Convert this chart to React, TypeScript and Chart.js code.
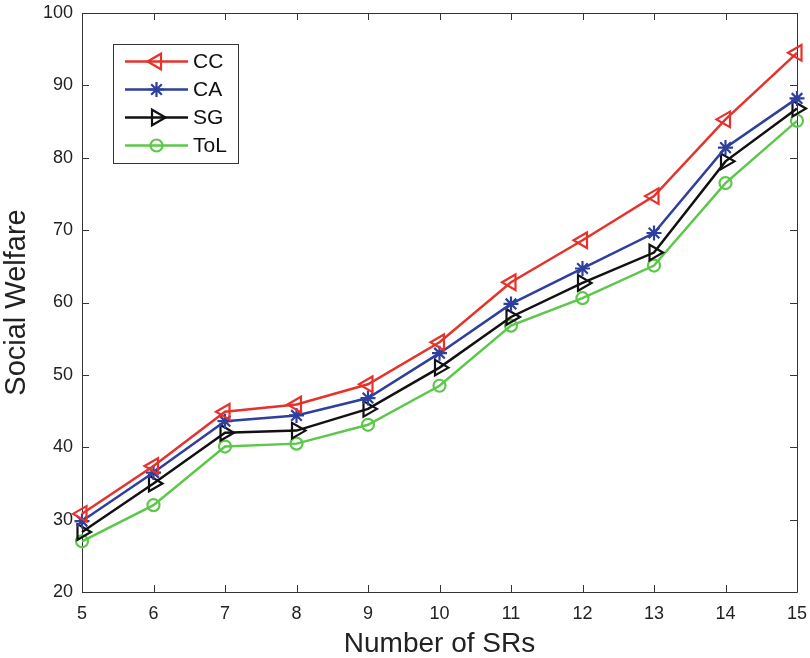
import React, { useEffect, useRef } from "react";
import { Chart, registerables } from "chart.js";
import { drawPoint } from "chart.js/helpers";

Chart.register(...registerables);

const xValues = [5, 6, 7, 8, 9, 10, 11, 12, 13, 14, 15];
const ccValues = [30.8, 37.4, 44.9, 45.9, 48.7, 54.5, 62.8, 68.6, 74.7, 85.3, 94.5];
const caValues = [29.8, 36.5, 43.6, 44.4, 46.8, 53.0, 59.8, 64.7, 69.6, 81.4, 88.2];
const sgValues = [28.3, 35.0, 42.0, 42.3, 45.3, 51.0, 58.0, 62.7, 66.9, 79.5, 86.8];
const tolValues = [27.0, 32.0, 40.1, 40.5, 43.1, 48.5, 56.8, 60.6, 65.1, 76.5, 85.1];
const seriesNames = ["CC", "CA", "SG", "ToL"];

const RED = "#e6322a";
const BLUE = "#2e3f9e";
const BLACK = "#111111";
const GREEN = "#5cc84a";
const AXIS = "#333333";
const FONT = "'Liberation Sans', Arial, Helvetica, sans-serif";

const boxPlugin = {
  id: "matlabBox",
  beforeDatasetsDraw(chart: any) {
    const { ctx, chartArea } = chart;
    const { left, right, top, bottom } = chartArea;
    const xs = chart.scales.x;
    const ys = chart.scales.y;
    const tl = 7;
    ctx.save();
    ctx.strokeStyle = AXIS;
    ctx.lineWidth = 1;
    ctx.beginPath();
    ctx.rect(left + 0.5, top + 0.5, right - left, bottom - top);
    xs.ticks.forEach((t: any) => {
      const px = Math.round(xs.getPixelForValue(t.value)) + 0.5;
      ctx.moveTo(px, bottom);
      ctx.lineTo(px, bottom - tl);
      ctx.moveTo(px, top);
      ctx.lineTo(px, top + tl);
    });
    ys.ticks.forEach((t: any) => {
      const py = Math.round(ys.getPixelForValue(t.value)) + 0.5;
      ctx.moveTo(left, py);
      ctx.lineTo(left + tl, py);
      ctx.moveTo(right, py);
      ctx.lineTo(right - tl, py);
    });
    ctx.stroke();
    ctx.restore();
  },
};

const legendPlugin = {
  id: "matlabLegend",
  afterDraw(chart: any) {
    const { ctx, chartArea } = chart;
    const bx = chartArea.left + 31;
    const by = chartArea.top + 31;
    const bw = 125;
    const bh = 119;
    ctx.save();
    ctx.fillStyle = "#ffffff";
    ctx.fillRect(bx, by, bw, bh);
    ctx.strokeStyle = AXIS;
    ctx.lineWidth = 1;
    ctx.strokeRect(bx + 0.5, by + 0.5, bw, bh);
    chart.data.datasets.forEach((ds: any, i: number) => {
      const y = by + 17.5 + i * 28;
      ctx.strokeStyle = ds.borderColor;
      ctx.lineWidth = ds.borderWidth;
      ctx.beginPath();
      ctx.moveTo(bx + 12, y);
      ctx.lineTo(bx + 75, y);
      ctx.stroke();
      ctx.fillStyle = "transparent";
      ctx.lineWidth = ds.pointBorderWidth;
      drawPoint(ctx, { pointStyle: ds.pointStyle, rotation: ds.pointRotation || 0, radius: ds.pointRadius, borderWidth: ds.pointBorderWidth }, bx + 43.5, y);
      ctx.fillStyle = "#111111";
      ctx.font = `21px ${FONT}`;
      ctx.textBaseline = "middle";
      ctx.textAlign = "left";
      ctx.fillText(ds.label, bx + 80, y + 1);
    });
    ctx.restore();
  },
};

function toPoints(vals: number[]) {
  return vals.map((v, i) => ({ x: xValues[i], y: v }));
}

function zeroPad(s: any) {
  s.paddingTop = 0;
  s.paddingBottom = 0;
  s.paddingLeft = 0;
  s.paddingRight = 0;
}

export default function App() {
  const ref = useRef<HTMLCanvasElement>(null);
  useEffect(() => {
    if (!ref.current) return;
    const mk = (label: string, vals: number[], color: string, style: string, rot: number, r: number) => ({
      label,
      data: toPoints(vals),
      borderColor: color,
      backgroundColor: "transparent",
      borderWidth: 2.5,
      pointStyle: style,
      pointRotation: rot,
      pointRadius: r,
      pointHoverRadius: r,
      pointBorderColor: color,
      pointBackgroundColor: "transparent",
      pointBorderWidth: 2.2,
      tension: 0,
      clip: false as any,
    });
    const chart = new Chart(ref.current, {
      type: "line",
      data: {
        datasets: [
          mk(seriesNames[0], ccValues, RED, "triangle", -90, 9),
          mk(seriesNames[1], caValues, BLUE, "star", 0, 7.5),
          mk(seriesNames[2], sgValues, BLACK, "triangle", 90, 9),
          mk(seriesNames[3], tolValues, GREEN, "circle", 0, 6),
        ],
      },
      options: {
        responsive: false,
        animation: false,
        layout: { autoPadding: false, padding: { left: 0, top: 13, right: 13, bottom: 0 } },
        plugins: { legend: { display: false }, tooltip: { enabled: false } },
        scales: {
          x: {
            type: "linear",
            min: 5,
            max: 15,
            ticks: { stepSize: 1, padding: 11, color: "#222", font: { family: FONT, size: 18 } },
            grid: { display: false, drawTicks: false },
            border: { display: false },
            title: { display: true, text: "Number of SRs", color: "#222", font: { family: FONT, size: 28, lineHeight: 1 }, padding: 0 },
            afterFit(s: any) { s.height = 66; zeroPad(s); },
          },
          y: {
            type: "linear",
            min: 20,
            max: 100,
            ticks: { stepSize: 10, padding: 9, color: "#222", font: { family: FONT, size: 18 } },
            grid: { display: false, drawTicks: false },
            border: { display: false },
            title: { display: true, text: "Social Welfare", color: "#222", font: { family: FONT, size: 29, lineHeight: 1.15 }, padding: 0 },
            afterFit(s: any) { s.width = 82; zeroPad(s); },
          },
        },
      },
      plugins: [boxPlugin, legendPlugin],
    } as any);
    return () => chart.destroy();
  }, []);
  return (
    <div style={{ position: "absolute", left: 0, top: 0, width: 810, height: 658, background: "#fff" }}>
      <canvas ref={ref} width={810} height={658} />
    </div>
  );
}
